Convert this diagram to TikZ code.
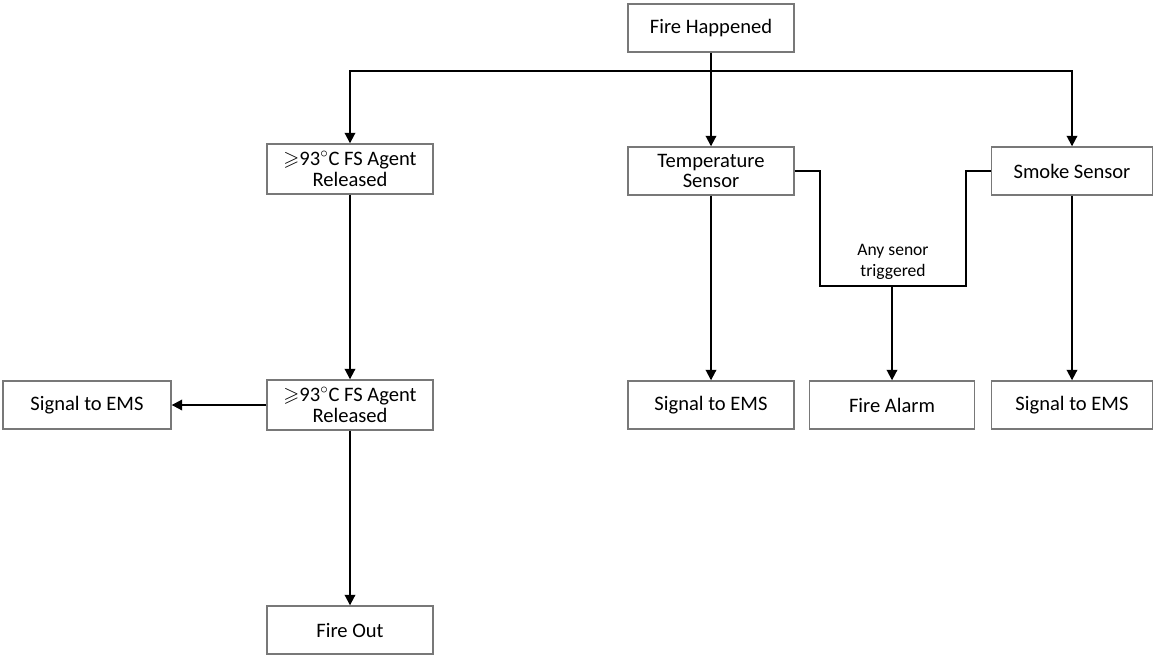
\documentclass[tikz,border=0pt]{standalone}
\usepackage{fontspec}
\usepackage{amssymb}
\setmainfont{Carlito}
\usetikzlibrary{arrows.meta}
\definecolor{cinzacaixa}{RGB}{120,120,120}
\tikzset{
	caixa/.style={draw=cinzacaixa, line width=0.8pt, minimum width=3.32cm, minimum height=0.96cm, align=center, inner sep=2pt, font=\fontsize{11.7}{11.8}\selectfont},
	linha/.style={line width=1.1pt},
	seta/.style={linha, ->}
}
\begin{document}
\begin{tikzpicture}[x=0.02cm, y=-0.02cm, >={Triangle[length=6pt,width=6pt]}] %Escala em pixels
					\useasboundingbox (0,0) rectangle (1155,656); %Margens
						%Caixas
					\node[caixa] (fogo) at (711,28) {Fire Happened};
					\node[caixa, minimum height=1cm] (agenteA) at (350,169) {$\geqslant$93$^{\circ}$C FS Agent\\Released};
					\node[caixa] (temp) at (711,171) {Temperature\\Sensor};
					\node[caixa, minimum width=3.22cm] (fumaca) at (1072,171) {Smoke Sensor};
					\node[caixa, minimum height=1cm] (agenteB) at (350,405) {$\geqslant$93$^{\circ}$C FS Agent\\Released};
					\node[caixa, minimum width=3.36cm] (sinalL) at (87,405) {Signal to EMS};
					\node[caixa] (sinalM) at (711,405) {Signal to EMS};
					\node[caixa, minimum width=3.3cm] (alarme) at (892,405) {Fire Alarm};
					\node[caixa, minimum width=3.22cm] (sinalR) at (1072,405) {Signal to EMS};
					\node[caixa] (saida) at (350,630) {Fire Out};
						%Ligações
					\coordinate (divisao) at (711,71); %Ponto de divisão
					\draw[seta] (fogo) -- (temp);
					\draw[seta] (divisao) -| (agenteA);
					\draw[seta] (divisao) -| (fumaca);
					\draw[seta] (agenteA) -- (agenteB);
					\draw[seta] (agenteB) -- (sinalL);
					\draw[seta] (agenteB) -- (saida);
					\draw[seta] (temp) -- (sinalM);
					\draw[seta] (fumaca) -- (sinalR);
						%Junção dos sensores
					\coordinate (juncao) at (alarme.north |- 0,286);
					\draw[linha] (temp.east) -- ++(25,0) |- (juncao);
					\draw[linha] (fumaca.west) -- ++(-25,0) |- (juncao);
					\draw[seta] (juncao) -- (alarme);
					\node[align=center, font=\fontsize{10}{11.8}\selectfont] (rotulo) at (893,262) {Any senor\\triggered};
				\end{tikzpicture}
\end{document}
